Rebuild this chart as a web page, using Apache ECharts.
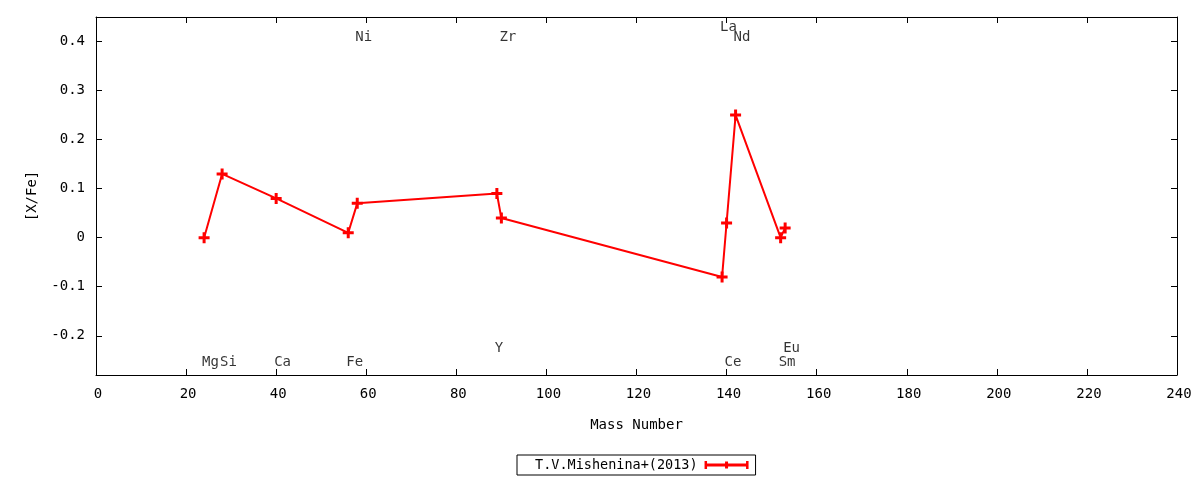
<!DOCTYPE html>
<html><head><meta charset="utf-8">
<script src="https://cdn.jsdelivr.net/npm/echarts@6/dist/echarts.min.js"></script>
<style>html,body{margin:0;padding:0;background:#fff}#c{width:1200px;height:480px}</style>
</head><body><div id="c"></div>
<script>
// data
const massNumbers = [24, 28, 40, 56, 58, 89, 90, 139, 140, 142, 152, 153];
const xfeValues   = [0.00, 0.13, 0.08, 0.01, 0.07, 0.09, 0.04, -0.08, 0.03, 0.25, 0.00, 0.02];
const seriesName = 'T.V.Mishenina+(2013)';
// element labels
const labelNames = ['Mg', 'Si', 'Ca', 'Fe', 'Ni', 'Y', 'Zr', 'La', 'Ce', 'Nd', 'Sm', 'Eu'];
const labelX     = [24, 28, 40, 56, 58, 89, 90, 139, 140, 142, 152, 153];
const labelY     = [-0.255, -0.255, -0.255, -0.255, 0.408, -0.2265, 0.408, 0.4286, -0.255, 0.408, -0.255, -0.2265];
// ticks
const yTicks = [-0.2, -0.1, 0, 0.1, 0.2, 0.3, 0.4];

const FONT = 'DejaVu Sans Mono';
const FS = 14;
const plusPath = 'path://M4,0H7V4H11V7H7V11H4V7H0V4H4Z';
const legendIcon = 'path://M0,0H2.5V2.5H20.5V0.5H23.5V2.5H41.5V0H44V8H41.5V5.5H23.5V7.5H20.5V5.5H2.5V8H0Z';

const chart = echarts.init(document.getElementById('c'));
const tickCommon = {show: true, inside: true, length: 6, lineStyle: {color: '#000', width: 1}};
chart.setOption({
  animation: false,
  textStyle: {fontFamily: FONT, fontSize: FS, color: '#000'},
  grid: {left: 96, right: 23, top: 17, bottom: 105},
  legend: {
    data: [{name: seriesName, icon: legendIcon}],
    left: 517, top: 455, align: 'right',
    itemWidth: 44, itemHeight: 8, itemGap: 6,
    padding: [3, 7, 3, 18],
    borderColor: '#000', borderWidth: 1, borderRadius: 0,
    textStyle: {fontFamily: FONT, fontSize: 13.5, color: '#000', padding: [0, 2, 0, 0]}
  },
  xAxis: [{
    type: 'value', min: 0, max: 240, interval: 20, position: 'bottom',
    name: 'Mass Number', nameLocation: 'middle', nameGap: 43,
    nameTextStyle: {fontFamily: FONT, fontSize: FS, color: '#000'},
    axisLine: {show: true, onZero: false, lineStyle: {color: '#000', width: 1}},
    axisTick: tickCommon,
    axisLabel: {fontFamily: FONT, fontSize: FS, color: '#000', margin: 12, padding: [0, 0, 0, 4]},
    splitLine: {show: false}
  }, {
    type: 'value', min: 0, max: 240, interval: 20, position: 'top',
    axisLine: {show: true, onZero: false, lineStyle: {color: '#000', width: 1}},
    axisTick: tickCommon, axisLabel: {show: false}, splitLine: {show: false}
  }],
  yAxis: [{
    type: 'value', min: -0.28, max: 0.45, position: 'left',
    name: '[X/Fe]', nameLocation: 'middle', nameGap: 57, nameRotate: 90,
    nameTextStyle: {fontFamily: FONT, fontSize: FS, color: '#000'},
    axisLine: {show: true, onZero: false, lineStyle: {color: '#000', width: 1}},
    axisTick: Object.assign({customValues: yTicks}, tickCommon),
    axisLabel: {customValues: yTicks, fontFamily: FONT, fontSize: FS, color: '#000', margin: 11,
      formatter: v => (Math.abs(v) < 1e-9 ? '0' : String(Math.round(v * 10) / 10))},
    splitLine: {show: false}
  }, {
    type: 'value', min: -0.28, max: 0.45, position: 'right',
    axisLine: {show: true, onZero: false, lineStyle: {color: '#000', width: 1}},
    axisTick: Object.assign({customValues: yTicks}, tickCommon),
    axisLabel: {show: false}, splitLine: {show: false}
  }],
  series: [{
    name: seriesName, type: 'line', xAxisIndex: 0, yAxisIndex: 0,
    data: massNumbers.map((m, i) => [m, xfeValues[i]]),
    symbol: plusPath, symbolSize: 11, showAllSymbol: true,
    lineStyle: {color: '#ff0000', width: 2},
    itemStyle: {color: '#ff0000'},
    emphasis: {disabled: true}, z: 3
  }, {
    name: 'labels', type: 'scatter', xAxisIndex: 0, yAxisIndex: 0,
    data: labelNames.map((n, i) => [labelX[i], labelY[i], n]),
    symbolSize: 1, itemStyle: {color: 'rgba(0,0,0,0)'},
    label: {show: true, position: 'inside', align: 'left', verticalAlign: 'middle', offset: [-2, 0],
      fontFamily: FONT, fontSize: FS, color: '#000', formatter: p => p.data[2]},
    emphasis: {disabled: true}, silent: true
  }]
});
</script></body></html>
